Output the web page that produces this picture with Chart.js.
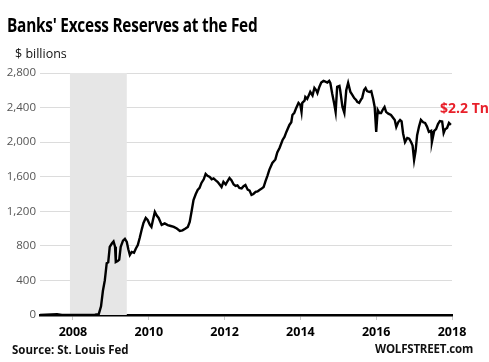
<!DOCTYPE html>
<html>
<head>
<meta charset="utf-8">
<script src="https://cdn.jsdelivr.net/npm/chart.js@4.4.1/dist/chart.umd.min.js"></script>
<style>
  html, body { margin: 0; padding: 0; background: #fff; }
  #wrap { position: relative; width: 489px; height: 362px; overflow: hidden; font-family: "Open Sans", sans-serif; }
  #c { position: absolute; left: 0; top: 0; }
  .txt { position: absolute; white-space: nowrap; line-height: 1; }
  #title { left: 7px; top: 16px; font-size: 19px; font-weight: bold; color: #000; letter-spacing: -0.3px; transform: scaleX(0.81); transform-origin: left top; }
  #unit { left: 15px; top: 48px; font-size: 12.5px; color: #111; }
  #source { left: 12px; top: 344px; font-size: 11.5px; font-weight: bold; color: #111; }
  #brand { right: 16px; top: 343px; font-size: 11.5px; font-weight: bold; color: #111; letter-spacing: -0.2px; }
  #last { left: 440px; top: 101px; font-size: 14px; font-weight: bold; color: #e8202a; }
</style>
</head>
<body>
<div id="wrap">
  <canvas id="c" width="489" height="362"></canvas>
  <div class="txt" id="title">Banks' Excess Reserves at the Fed</div>
  <div class="txt" id="unit">$ billions</div>
  <div class="txt" id="source">Source: St. Louis Fed</div>
  <div class="txt" id="brand">WOLFSTREET.com</div>
  <div class="txt" id="last">$2.2 Tn</div>
</div>
<script>
// tanggal dalam tahun desimal, nilai dalam miliar dolar
const dates = [
  2007.13, 2007.58, 2007.71, 2008.18, 2008.58, 2008.68, 2008.74, 2008.79, 2008.84, 2008.89,
  2008.93, 2008.97, 2009.03, 2009.07, 2009.11, 2009.13, 2009.18, 2009.22, 2009.26, 2009.32,
  2009.37, 2009.42, 2009.46, 2009.50, 2009.55, 2009.61, 2009.66, 2009.71, 2009.76, 2009.82,
  2009.86, 2009.92, 2009.97, 2010.03, 2010.07, 2010.11, 2010.16, 2010.21, 2010.26, 2010.34,
  2010.42, 2010.50, 2010.58, 2010.66, 2010.74, 2010.82, 2010.89, 2010.97, 2011.03, 2011.08,
  2011.13, 2011.18, 2011.24, 2011.29, 2011.34, 2011.39, 2011.45, 2011.50, 2011.55, 2011.61,
  2011.66, 2011.71, 2011.76, 2011.82, 2011.87, 2011.92, 2011.97, 2012.03, 2012.08, 2012.13,
  2012.18, 2012.24, 2012.29, 2012.34, 2012.39, 2012.45, 2012.50, 2012.55, 2012.61, 2012.66,
  2012.71, 2012.76, 2012.82, 2012.87, 2012.92, 2012.97, 2013.03, 2013.08, 2013.13, 2013.18,
  2013.26, 2013.34, 2013.39, 2013.45, 2013.53, 2013.58, 2013.63, 2013.71, 2013.76, 2013.79,
  2013.84, 2013.89, 2013.95, 2014.00, 2014.03, 2014.05, 2014.11, 2014.13, 2014.18, 2014.24,
  2014.26, 2014.32, 2014.37, 2014.42, 2014.45, 2014.50, 2014.55, 2014.61, 2014.66, 2014.71,
  2014.76, 2014.79, 2014.84, 2014.89, 2014.93, 2014.97, 2015.03, 2015.05, 2015.11, 2015.16,
  2015.21, 2015.26, 2015.32, 2015.37, 2015.42, 2015.47, 2015.50, 2015.55, 2015.61, 2015.63,
  2015.68, 2015.72, 2015.76, 2015.82, 2015.87, 2015.92, 2015.96, 2016.00, 2016.04, 2016.08,
  2016.13, 2016.18, 2016.22, 2016.26, 2016.32, 2016.39, 2016.45, 2016.49, 2016.53, 2016.58,
  2016.63, 2016.67, 2016.71, 2016.76, 2016.82, 2016.87, 2016.92, 2016.96, 2017.00, 2017.04,
  2017.08, 2017.13, 2017.18, 2017.24, 2017.29, 2017.34, 2017.39, 2017.45, 2017.47, 2017.53,
  2017.58, 2017.63, 2017.68, 2017.74, 2017.78, 2017.82, 2017.87, 2017.92, 2017.97
];
const reserves = [
  2, 8, 2, 2, 3, 10, 100, 280, 400, 600,
  610, 787, 830, 850, 790, 613, 625, 640, 790, 860,
  880, 845, 760, 694, 730, 720, 770, 810, 891, 1000,
  1065, 1123, 1100, 1042, 1019, 1100, 1192, 1150, 1123, 1042,
  1060, 1040, 1030, 1020, 1000, 972, 980, 1000, 1019, 1076,
  1200, 1331, 1400, 1447, 1470, 1528, 1570, 1632, 1610, 1597,
  1570, 1580, 1560, 1539, 1510, 1481, 1540, 1510, 1550, 1586,
  1560, 1510, 1493, 1500, 1470, 1465, 1490, 1505, 1450, 1440,
  1389, 1400, 1424, 1430, 1447, 1460, 1481, 1550, 1610, 1680,
  1759, 1800, 1880, 1933, 2025, 2060, 2118, 2199, 2230, 2315,
  2340, 2396, 2454, 2430, 2350, 2454, 2480, 2523, 2500, 2560,
  2581, 2540, 2627, 2600, 2569, 2639, 2690, 2708, 2700, 2690,
  2708, 2685, 2560, 2450, 2350, 2639, 2650, 2600, 2407, 2338,
  2600, 2685, 2580, 2546, 2510, 2488, 2465, 2454, 2500, 2512,
  2604, 2627, 2590, 2580, 2590, 2500, 2407, 2118, 2373, 2340,
  2338, 2380, 2407, 2350, 2330, 2315, 2280, 2257, 2176, 2230,
  2257, 2240, 2100, 2000, 2049, 2040, 2002, 1960, 1794, 1900,
  2080, 2180, 2257, 2230, 2222, 2180, 2118, 2130, 2002, 2130,
  2150, 2210, 2245, 2240, 2106, 2150, 2164, 2222, 2200
];
const recession = [2007.92, 2009.42];
const xTicks = [2008, 2010, 2012, 2014, 2016, 2018];
const yTicks = [0, 400, 800, 1200, 1600, 2000, 2400, 2800];

// arsir masa resesi
const recessionBand = {
  id: 'recessionBand',
  beforeDatasetsDraw(chart) {
    const { ctx, chartArea, scales } = chart;
    const x0 = scales.x.getPixelForValue(recession[0]);
    const x1 = scales.x.getPixelForValue(recession[1]);
    ctx.save();
    ctx.fillStyle = '#e6e6e6';
    ctx.fillRect(x0, chartArea.top, x1 - x0, chartArea.bottom - chartArea.top);
    ctx.restore();
  }
};

const ctx = document.getElementById('c').getContext('2d');
new Chart(ctx, {
  type: 'line',
  data: {
    datasets: [{
      data: dates.map((d, i) => ({ x: d, y: reserves[i] })),
      borderColor: '#000',
      borderWidth: 2.4,
      pointRadius: 0,
      tension: 0,
      fill: false
    }]
  },
  options: {
    responsive: false,
    animation: false,
    events: [],
    layout: { padding: { top: 73, right: 37, left: 0, bottom: 0 } },
    plugins: { legend: { display: false }, tooltip: { enabled: false } },
    scales: {
      x: {
        type: 'linear',
        min: 2007.13,
        max: 2018,
        afterBuildTicks: (s) => { s.ticks = xTicks.map(v => ({ value: v })); },
        afterFit: (s) => { s.height = 47; },
        grid: { drawOnChartArea: false, drawTicks: true, tickLength: 5, color: '#c8c8c8' },
        border: { color: '#000', width: 2.5 },
        ticks: {
          autoSkip: false,
          maxRotation: 0,
          padding: 5,
          color: '#000',
          font: { family: 'Open Sans', size: 12.5, weight: 'bold' },
          callback: (v) => String(v)
        }
      },
      y: {
        min: 0,
        max: 2800,
        afterBuildTicks: (s) => { s.ticks = yTicks.map(v => ({ value: v })); },
        afterFit: (s) => { s.width = 40; },
        grid: { drawTicks: false, color: '#dcdcdc', lineWidth: 1 },
        border: { display: false },
        ticks: {
          padding: 4,
          color: '#555',
          font: { family: 'Open Sans', size: 11.5 },
          callback: (v) => v.toLocaleString('en-US')
        }
      }
    }
  },
  plugins: [recessionBand]
});
</script>
</body>
</html>
